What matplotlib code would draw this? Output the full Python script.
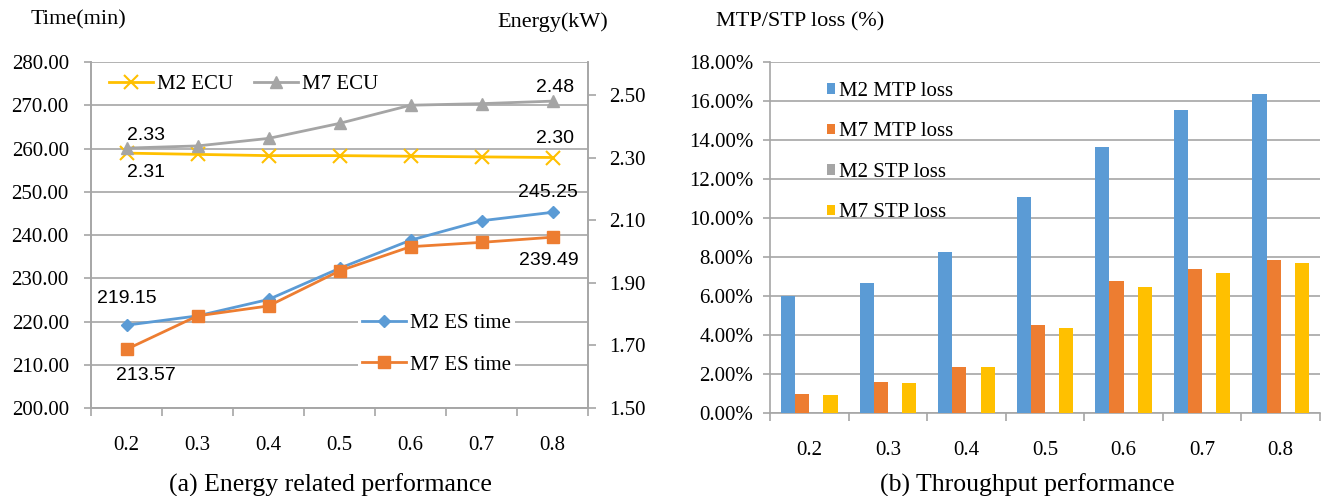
import numpy as np
import matplotlib
matplotlib.use('Agg')
import matplotlib.pyplot as plt
from matplotlib.ticker import FixedLocator, FuncFormatter

plt.rcParams['font.family'] = ['Liberation Serif', 'DejaVu Serif']

# 数据
loads = ['0.2', '0.3', '0.4', '0.5', '0.6', '0.7', '0.8']
m2_ecu = [2.314, 2.310, 2.306, 2.306, 2.304, 2.302, 2.30]
m7_ecu = [2.33, 2.337, 2.361, 2.409, 2.467, 2.472, 2.48]
m2_es_time = [219.15, 221.3, 225.1, 232.3, 238.8, 243.3, 245.25]
m7_es_time = [213.57, 221.3, 223.6, 231.7, 237.3, 238.3, 239.49]

m2_mtp = [5.98, 6.68, 8.27, 11.09, 13.66, 15.54, 16.34]
m7_mtp = [0.97, 1.59, 2.36, 4.50, 6.77, 7.38, 7.86]
m2_stp = [0, 0, 0, 0, 0, 0, 0]
m7_stp = [0.91, 1.52, 2.36, 4.34, 6.48, 7.18, 7.68]

BLUE = '#5B9BD5'
ORANGE = '#ED7D31'
GRAY = '#A5A5A5'
YELLOW = '#FFC000'
GRID = '#A6A6A6'
SANS = ['Liberation Sans', 'DejaVu Sans']

fig = plt.figure(figsize=(13.25, 4.96), dpi=100)
x = np.arange(len(loads))


def style_x(ax):
    ax.set_xlim(-0.5, len(loads) - 0.5)
    ax.set_xticks(x)
    ax.set_xticklabels(loads, fontsize=15)
    ax.xaxis.set_minor_locator(FixedLocator(np.arange(-0.5, len(loads), 1.0)))
    ax.tick_params(axis='x', which='major', length=0, pad=20)
    ax.tick_params(axis='x', which='minor', length=6, width=1.2, color=GRID, direction='out')
    ax.spines['top'].set_visible(False)
    for s in ['left', 'right', 'bottom']:
        ax.spines[s].set_color(GRID)
        ax.spines[s].set_linewidth(1.2)


# (a) 能耗相关性能
ax1 = fig.add_axes([0.0687, 0.1774, 0.3751, 0.6976])
ax2 = ax1.twinx()
style_x(ax1)
ax1.set_ylim(200, 280)
ax1.set_yticks(np.arange(200, 281, 10))
ax1.yaxis.set_major_formatter(FuncFormatter(lambda v, p: '%.2f' % v))
ax1.tick_params(axis='y', length=5, width=1.2, color=GRID, labelsize=15, pad=11)
ax1.grid(axis='y', color=GRID, linewidth=1.2)
ax1.set_axisbelow(True)

ax2.set_ylim(1.5, 2.605)
ax2.set_yticks([1.5, 1.7, 1.9, 2.1, 2.3, 2.5])
ax2.yaxis.set_major_formatter(FuncFormatter(lambda v, p: '%.2f' % v))
ax2.tick_params(axis='y', length=6, width=1.2, color=GRID, labelsize=15, pad=9)
ax2.spines['top'].set_visible(False)
for s in ['left', 'right', 'bottom']:
    ax2.spines[s].set_color(GRID)
    ax2.spines[s].set_linewidth(1.2)

l_m2e, = ax1.plot(x, m2_es_time, color=BLUE, lw=2, marker='D', ms=6, label='M2 ES time')
l_m7e, = ax1.plot(x, m7_es_time, color=ORANGE, lw=2, marker='s', ms=9, label='M7 ES time')
l_m2c, = ax2.plot(x, m2_ecu, color=YELLOW, lw=2, marker='x', ms=10, mew=1.5, label='M2 ECU')
l_m7c, = ax2.plot(x, m7_ecu, color=GRAY, lw=2, marker='^', ms=9, label='M7 ECU')

ann = dict(fontsize=14, family=SANS, ha='center', va='center', textcoords='offset points')
ax2.annotate('%.2f' % m7_ecu[0], (x[0], m7_ecu[0]), xytext=(14, 9), **ann)
ax2.annotate('%.2f' % m2_ecu[0], (x[0], m2_ecu[0]), xytext=(14, -14), **ann)
ax2.annotate('%.2f' % m7_ecu[-1], (x[-1], m7_ecu[-1]), xytext=(1.5, 10), **ann)
ax2.annotate('%.2f' % m2_ecu[-1], (x[-1], m2_ecu[-1]), xytext=(1.5, 14), **ann)
ax1.annotate('%.2f' % m2_es_time[-1], (x[-1], m2_es_time[-1]), xytext=(-3, 14), **ann)
ax1.annotate('%.2f' % m7_es_time[-1], (x[-1], m7_es_time[-1]), xytext=(-3, -17), **ann)
ax1.annotate('%.2f' % m2_es_time[0], (x[0], m2_es_time[0]), xytext=(0, 19), **ann)
ax1.annotate('%.2f' % m7_es_time[0], (x[0], m7_es_time[0]), xytext=(14, -19), **ann)

leg1 = ax2.legend(handles=[l_m2c, l_m7c], ncol=2, loc='center left', bbox_to_anchor=(0.02, 0.935),
                  frameon=False, fontsize=15, handlelength=2.1, handletextpad=0.2,
                  columnspacing=1.0, borderaxespad=0)
leg2 = ax2.legend(handles=[l_m2e, l_m7e], loc='center left', bbox_to_anchor=(0.537, 0.185),
                  frameon=True, fancybox=False, framealpha=1, edgecolor='none', facecolor='white',
                  fontsize=15, handlelength=2.1, handletextpad=0.2, labelspacing=1.05,
                  borderpad=0.2, borderaxespad=0)
ax2.add_artist(leg1)

fig.text(78 / 1325, 1 - 20 / 496, 'Time(min)', fontsize=16, ha='center', va='center')
fig.text(553 / 1325, 1 - 22 / 496, 'Energy(kW)', fontsize=16, ha='center', va='center')
fig.text(330 / 1325, 1 - 485 / 496, '(a) Energy related performance', fontsize=18.5,
         ha='center', va='center')

# (b) 吞吐性能
ax3 = fig.add_axes([0.5811, 0.1673, 0.4151, 0.7077])
style_x(ax3)
ax3.spines['right'].set_visible(False)
ax3.set_ylim(0, 18)
ax3.set_yticks(np.arange(0, 18.1, 2))
ax3.yaxis.set_major_formatter(FuncFormatter(lambda v, p: '%.2f%%' % v))
ax3.tick_params(axis='y', length=5, width=1.2, color=GRID, labelsize=15, pad=7)
ax3.grid(axis='y', color=GRID, linewidth=1.2)
ax3.set_axisbelow(True)

w = 0.18
series = [(m2_mtp, BLUE, 'M2 MTP loss'), (m7_mtp, ORANGE, 'M7 MTP loss'),
          (m2_stp, GRAY, 'M2 STP loss'), (m7_stp, YELLOW, 'M7 STP loss')]
for k, (vals, c, lab) in enumerate(series):
    ax3.bar(x + (k - 1.5) * w, vals, width=w, color=c, label=lab, zorder=3)

ax3.legend(loc='upper left', bbox_to_anchor=(0.1036, 0.943), frameon=False, fontsize=15,
           handlelength=0.4, handleheight=0.4, handletextpad=0.2, labelspacing=1.03,
           borderaxespad=0, borderpad=0)

fig.text(800 / 1325, 1 - 22 / 496, 'MTP/STP loss (%)', fontsize=16, ha='center', va='center')
fig.text(1027 / 1325, 1 - 485 / 496, '(b) Throughput performance', fontsize=18.5,
         ha='center', va='center')

fig.savefig('out.png', dpi=100)
